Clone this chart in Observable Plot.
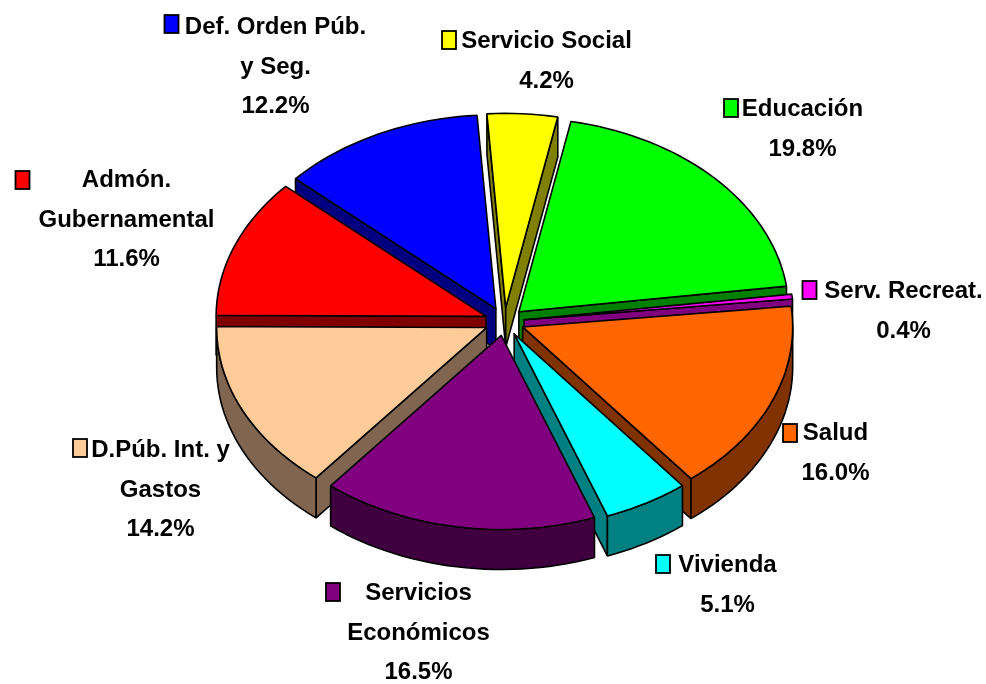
<!DOCTYPE html>
<html><head><meta charset="utf-8">
<script src="https://cdn.jsdelivr.net/npm/d3@7"></script>
<script src="https://cdn.jsdelivr.net/npm/@observablehq/plot@0.6"></script>
<style>html,body{margin:0;padding:0;background:#fff}svg{display:block;filter:blur(.45px)}</style>
</head><body><div id="chart"></div>
<script>
// Data, clockwise from the top of the pie
const categories = ["Servicio Social","Educación","Serv. Recreat.","Salud","Vivienda","Servicios Económicos","D.Púb. Int. y Gastos","Admón. Gubernamental","Def. Orden Púb. y Seg."];
const values = [4.2,19.8,0.4,16.0,5.1,16.5,14.2,11.6,12.2];
const labelLines = [["Servicio Social"],["Educación"],["Serv. Recreat."],["Salud"],["Vivienda"],["Servicios","Económicos"],["D.Púb. Int. y","Gastos"],["Admón.","Gubernamental"],["Def. Orden Púb.","y Seg."]];
const topColors = ["#ffff00","#00ff00","#ff00ff","#ff6600","#00ffff","#800080","#ffcc99","#ff0000","#0000ff"];
const wallColors = ["#808000","#008000","#800080","#803300","#008080","#400040","#806650","#800000","#000080"];

// Layout (separate from the data)
const W = 986, H = 684;
const cx = 504, cy = 321, rx = 270, ry = 194, depth = 40, explode = 0.073, startDeg = -4;
const paintOrder = [0,8,1,7,2,3,6,4,5];
const labelLayout = [
 {tx:546,ty:40,sx:449,sy:40},{tx:802,ty:108,sx:731,sy:108},{tx:903,ty:290,sx:809.5,sy:290},
 {tx:835,ty:432,sx:790,sy:433},{tx:727,ty:564,sx:663,sy:564},{tx:418,ty:592,sx:333,sy:592},
 {tx:160,ty:449,sx:80,sy:448},{tx:126,ty:179,sx:22.5,sy:180},{tx:275,ty:26,sx:171.5,sy:24}];
const lineGap = 39.5;
const swatchHalfW = 7, swatchHalfH = 9;

const total = d3.sum(values);
let acc = startDeg;
const slices = values.map((v,i)=>{
  const a0 = acc, a1 = acc + v/total*360; acc = a1;
  return {i,a0,a1};
});
const rad = d=>d*Math.PI/180;
const polys = [];
let pid = 0;
function addPoly(pts, fill){ const id = pid++; pts.forEach(p=>polys.push({x:p[0],y:p[1],id,fill})); }
for (const k of paintOrder){
  const s = slices[k], mid = rad((s.a0+s.a1)/2);
  const ox = cx + explode*rx*Math.sin(mid), oy = cy - explode*ry*Math.cos(mid);
  const at = deg=>{const t=rad(deg);return [ox+rx*Math.sin(t),oy-ry*Math.cos(t)];};
  const sweep = (a,b)=>{const n=Math.max(2,Math.ceil((b-a)/2));return d3.range(n+1).map(j=>at(a+(b-a)*j/n));};
  const dn = p=>[p[0],p[1]+depth], apex=[ox,oy];
  const arc = sweep(s.a0,s.a1);
  // only the faces that look toward the viewer
  if (Math.sin(rad(s.a0))<0){const p=at(s.a0);addPoly([apex,p,dn(p),dn(apex),apex],wallColors[k]);}
  if (Math.sin(rad(s.a1))>0){const p=at(s.a1);addPoly([apex,p,dn(p),dn(apex),apex],wallColors[k]);}
  const f0=Math.max(s.a0,90), f1=Math.min(s.a1,270);
  if (f1>f0){const w=sweep(f0,f1);addPoly([...w,...w.slice().reverse().map(dn),w[0]],wallColors[k]);}
  addPoly([apex,...arc,apex],topColors[k]);
}
const textRows = [];
labelLines.forEach((lines,i)=>{
  [...lines, values[i].toFixed(1)+"%"].forEach((t,j)=>textRows.push({x:labelLayout[i].tx,y:labelLayout[i].ty+j*lineGap,t}));
});
const swatches = categories.map((c,i)=>({
  x1:labelLayout[i].sx-swatchHalfW,x2:labelLayout[i].sx+swatchHalfW,
  y1:labelLayout[i].sy-swatchHalfH,y2:labelLayout[i].sy+swatchHalfH,fill:topColors[i]}));

const chart = Plot.plot({
  width:W,height:H,margin:0,
  x:{domain:[0,W],range:[0,W],axis:null},
  y:{domain:[0,H],range:[0,H],axis:null},
  style:{background:"#fff"},
  marks:[
    Plot.line(polys,{x:"x",y:"y",z:"id",fill:"fill",stroke:"#000",strokeWidth:1.6,strokeLinejoin:"miter"}),
    Plot.rect(swatches,{x1:"x1",x2:"x2",y1:"y1",y2:"y2",fill:"fill",stroke:"#000",strokeWidth:1.8}),
    Plot.text(textRows,{x:"x",y:"y",text:"t",fontFamily:"Liberation Sans",fontWeight:"bold",fontSize:24,fill:"#000",stroke:"none",textAnchor:"middle",lineAnchor:"middle"})
  ]
});
document.getElementById("chart").append(chart);
</script></body></html>
